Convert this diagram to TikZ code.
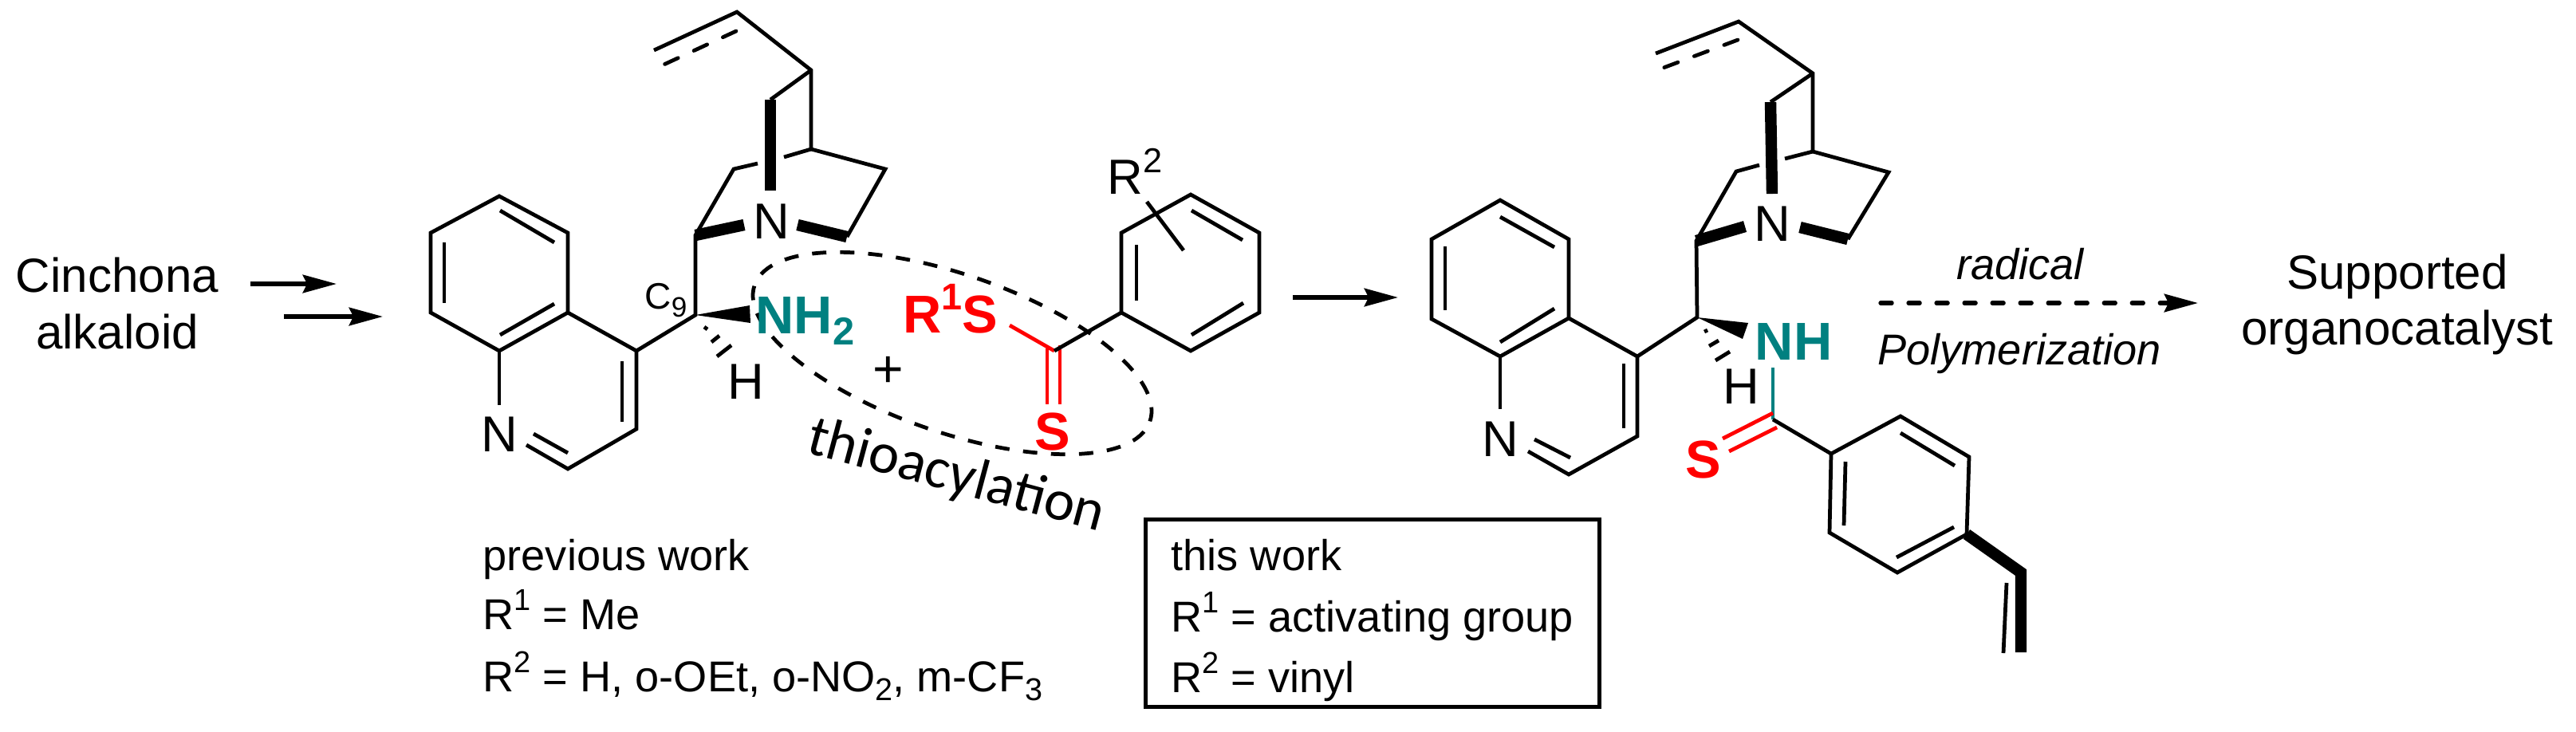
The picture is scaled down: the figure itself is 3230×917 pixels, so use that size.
\documentclass[tikz,border=0pt]{standalone}
\usepackage{fontspec}
\setmainfont{Liberation Sans}
\newfontfamily\calfont{Carlito}
\usetikzlibrary{arrows.meta}
\usetikzlibrary{shapes.geometric}
\definecolor{amine}{RGB}{0,128,128}
\definecolor{thio}{RGB}{255,0,0}
\newcommand{\supn}[1]{\raisebox{.43em}{\scalebox{.7}{#1}}}
\newcommand{\subn}[1]{\raisebox{-.21em}{\scalebox{.73}{#1}}}
\tikzset{
  bond/.style={line width=1.35pt},
  boldbond/.style={line width=4.1pt},
  dashbond/.style={line width=1.35pt,line cap=round,dash pattern=on 5.2pt off 6.2pt},
  wedge/.style={fill=black,draw=none},
  rxnarrow/.style={line width=1.5pt,-{Stealth[length=12pt,width=6.4pt,inset=1.5pt]}},
  dasharrow/.style={rxnarrow,line cap=round,dash pattern=on 4pt off 5.96pt},
  txt/.style={inner sep=0pt,font=\fontsize{15.4}{18}\selectfont},
  big/.style={inner sep=0pt,anchor=base,font=\fontsize{17.1}{20}\selectfont},
  cond/.style={inner sep=0pt,anchor=base,font=\fontsize{15.4}{18}\selectfont\itshape},
  atom/.style={inner sep=0pt,anchor=base,font=\fontsize{18}{20}\selectfont},
  group/.style={inner sep=0pt,font=\fontsize{19}{22}\selectfont\bfseries},
}
\begin{document}
\begin{tikzpicture}[x=0.01cm,y=-0.01cm]
  \useasboundingbox (0,0) rectangle (3230,917);

  \node[draw,ellipse,line width=1.35pt,dash pattern=on 5.1pt off 4.9pt,inner sep=0pt,
    minimum width=5.24cm,minimum height=1.98cm,rotate=-19] (pocket) at (1194,443) {};

  \node[big] (alka) at (147,366) {Cinchona};
  \node[big] (alkb) at (147,437) {alkaloid};
  \coordinate (ara) at (314,356);
  \coordinate (arb) at (422,356);
  \coordinate (arc) at (356,397);
  \coordinate (ard) at (480,397);
  \draw[rxnarrow] (ara) -- (arb);
  \draw[rxnarrow] (arc) -- (ard);

  \coordinate (q1) at (626,246);
  \coordinate (q2) at (540,292);
  \coordinate (q3) at (540,392);
  \coordinate (q4) at (626,440);
  \coordinate (q5) at (712,392);
  \coordinate (q6) at (712,292);
  \coordinate (q7) at (798,440);
  \coordinate (q8) at (798,538);
  \coordinate (q9) at (712,588);
  \coordinate (qa) at (626,508);
  \coordinate (qb) at (660,558);
  \node[atom] (qn) at (626,566) {N};
  \draw[bond] (q5) -- (q6) -- (q1) -- (q2) -- (q3) -- (q4) -- (q5) -- (q7) -- (q8) -- (q9) -- (qb);
  \draw[bond] (q4) -- (qa);
  \coordinate (qc) at (627,264);
  \coordinate (qd) at (695,304);
  \coordinate (qe) at (557,304);
  \coordinate (qf) at (557,380);
  \coordinate (qg) at (627,420);
  \coordinate (qh) at (695,381);
  \coordinate (qi) at (780,453);
  \coordinate (qj) at (780,529);
  \coordinate (qk) at (669,544);
  \coordinate (ql) at (712,568);
  \draw[bond] (qc) -- (qd);
  \draw[bond] (qe) -- (qf);
  \draw[bond] (qg) -- (qh);
  \draw[bond] (qi) -- (qj);
  \draw[bond] (qk) -- (ql);

  \coordinate (c9) at (872,395);
  \coordinate (c8) at (872,295);
  \coordinate (v1) at (820,63);
  \coordinate (v2) at (924,15);
  \coordinate (v3) at (923,39);
  \coordinate (v4) at (828,83);
  \coordinate (u1) at (1017,88);
  \coordinate (u2) at (1017,187);
  \coordinate (u3) at (1110,212);
  \coordinate (u4) at (1062,297);
  \coordinate (u5) at (1000,282);
  \coordinate (u6) at (983,197);
  \coordinate (u7) at (950,205);
  \coordinate (u8) at (920,212);
  \coordinate (u9) at (966,125);
  \coordinate (ua) at (966,239);
  \coordinate (ub) at (933,282);
  \node[atom] (un) at (967,299) {N};
  \draw[bond] (q7) -- (c9) -- (c8) -- (u8) -- (u7);
  \draw[bond] (v1) -- (v2) -- (u1) -- (u2) -- (u3) -- (u4);
  \draw[bond] (u2) -- (u6);
  \draw[bond] (u1) -- (u9);
  \draw[dashbond] (v3) -- (v4);
  \draw[boldbond] (u9) -- (ua);
  \draw[boldbond] (c8) -- (ub);
  \draw[boldbond] (u5) -- (u4);

  \coordinate (wa) at (940,383);
  \coordinate (wb) at (941,405);
  \fill[wedge] (c9) -- (wa) -- (wb) -- cycle;
  \coordinate (ha) at (883,410);
  \coordinate (hb) at (887,413);
  \coordinate (hc) at (892,429);
  \coordinate (hd) at (902,421);
  \coordinate (he) at (899,447);
  \coordinate (hf) at (917,433);
  \draw[bond] (ha) -- (hb);
  \draw[bond] (hc) -- (hd);
  \draw[bond] (he) -- (hf);
  \node[atom] (hl) at (935,500) {H};
  \node[inner sep=0pt,anchor=base west] (cn) at (808,387) {\fontsize{13.1}{15}\selectfont C\raisebox{-3.1pt}{\fontsize{10}{12}\selectfont 9}};
  \node[group,text=amine,anchor=base west] (nh2) at (947,418) {NH\subn{2}};

  \node[inner sep=0pt,anchor=base,font=\fontsize{18.8}{20}\selectfont] (plus) at (1114,485) {+};

  \node[group,text=thio,anchor=base west] (r1s) at (1132,417) {R\supn{1}S};
  \node[group,text=thio,anchor=base] (sa) at (1320,564) {S};
  \coordinate (t0) at (1322,440);
  \coordinate (t1) at (1266,408);
  \coordinate (t2) at (1313,437);
  \coordinate (t3) at (1313,507);
  \coordinate (t4) at (1329,433);
  \coordinate (t5) at (1329,507);
  \draw[bond,thio] (t1) -- (t0);
  \draw[bond,thio] (t2) -- (t3);
  \draw[bond,thio] (t4) -- (t5);

  \coordinate (p1) at (1406,392);
  \coordinate (p2) at (1406,292);
  \coordinate (p3) at (1493,244);
  \coordinate (p4) at (1579,292);
  \coordinate (p5) at (1579,392);
  \coordinate (p6) at (1493,440);
  \draw[bond] (t0) -- (p1) -- (p2) -- (p3) -- (p4) -- (p5) -- (p6) -- (p1);
  \coordinate (pa) at (1425,307);
  \coordinate (pb) at (1425,377);
  \coordinate (pc) at (1494,264);
  \coordinate (pd) at (1558,301);
  \coordinate (pe) at (1494,420);
  \coordinate (pf) at (1559,380);
  \draw[bond] (pa) -- (pb);
  \draw[bond] (pc) -- (pd);
  \draw[bond] (pe) -- (pf);
  \coordinate (pg) at (1438,253);
  \coordinate (ph) at (1484,314);
  \draw[bond] (pg) -- (ph);
  \node[inner sep=0pt,anchor=base west,font=\fontsize{17.6}{20}\selectfont] (r2) at (1388,243) {R\supn{2}};

  \coordinate (tka) at (1194,617);
  \node[inner sep=0pt,anchor=base,rotate=-15,font=\fontsize{20.6}{24}\selectfont\calfont] (thia) at (tka) {thioacylation};

  \node[txt,anchor=base west] (pra) at (605,715) {previous work};
  \node[txt,anchor=base west] (prb) at (605,789) {R\supn{1} = Me};
  \node[txt,anchor=base west] (prc) at (605,867) {R\supn{2} = H, o-OEt, o-NO\subn{2}, m-CF\subn{3}};

  \node[draw,line width=1.35pt,inner sep=0pt,minimum width=5.69cm,minimum height=2.35cm] (frame) at (1721,769) {};
  \node[txt,anchor=base west] (tha) at (1468,715) {this work};
  \node[txt,anchor=base west] (thb) at (1468,792) {R\supn{1} = activating group};
  \node[txt,anchor=base west] (thc) at (1468,868) {R\supn{2} = vinyl};

  \coordinate (are) at (1621,373);
  \coordinate (arf) at (1753,373);
  \draw[rxnarrow] (are) -- (arf);

  \coordinate (s1) at (1881,251);
  \coordinate (s2) at (1795,300);
  \coordinate (s3) at (1795,400);
  \coordinate (s4) at (1881,447);
  \coordinate (s5) at (1967,399);
  \coordinate (s6) at (1967,300);
  \coordinate (s7) at (2053,447);
  \coordinate (s8) at (2053,547);
  \coordinate (s9) at (1967,595);
  \coordinate (sa1) at (1881,513);
  \coordinate (sb) at (1916,566);
  \node[atom] (sn) at (1881,572) {N};
  \draw[bond] (s5) -- (s6) -- (s1) -- (s2) -- (s3) -- (s4) -- (s5) -- (s7) -- (s8) -- (s9) -- (sb);
  \draw[bond] (s4) -- (sa1);
  \coordinate (sc) at (1881,272);
  \coordinate (sd) at (1949,310);
  \coordinate (se) at (1812,309);
  \coordinate (sf) at (1812,389);
  \coordinate (sg) at (1881,429);
  \coordinate (sh) at (1949,387);
  \coordinate (si) at (2036,456);
  \coordinate (sj) at (2036,537);
  \coordinate (sk) at (1924,551);
  \coordinate (sl) at (1969,574);
  \draw[bond] (sc) -- (sd);
  \draw[bond] (se) -- (sf);
  \draw[bond] (sg) -- (sh);
  \draw[bond] (si) -- (sj);
  \draw[bond] (sk) -- (sl);

  \coordinate (d9) at (2128,398);
  \coordinate (d8) at (2127,302);
  \coordinate (x1) at (2076,67);
  \coordinate (x2) at (2180,27);
  \coordinate (x3) at (2179,50);
  \coordinate (x4) at (2083,86);
  \coordinate (y1) at (2273,92);
  \coordinate (y2) at (2273,190);
  \coordinate (y3) at (2368,216);
  \coordinate (y4) at (2317,300);
  \coordinate (y5) at (2257,285);
  \coordinate (y6) at (2238,199);
  \coordinate (y7) at (2206,207);
  \coordinate (y8) at (2177,215);
  \coordinate (y9) at (2220,128);
  \coordinate (ya) at (2222,243);
  \coordinate (yb) at (2188,284);
  \node[atom] (yn) at (2222,302) {N};
  \draw[bond] (s7) -- (d9) -- (d8) -- (y8) -- (y7);
  \draw[bond] (x1) -- (x2) -- (y1) -- (y2) -- (y3) -- (y4);
  \draw[bond] (y2) -- (y6);
  \draw[bond] (y1) -- (y9);
  \draw[dashbond] (x3) -- (x4);
  \draw[boldbond] (y9) -- (ya);
  \draw[boldbond] (d8) -- (yb);
  \draw[boldbond] (y5) -- (y4);

  \coordinate (za) at (2192,405);
  \coordinate (zb) at (2185,425);
  \fill[wedge] (d9) -- (za) -- (zb) -- cycle;
  \coordinate (ka) at (2137,416);
  \coordinate (kb) at (2141,414);
  \coordinate (kc) at (2143,434);
  \coordinate (kd) at (2155,427);
  \coordinate (ke) at (2151,452);
  \coordinate (kf) at (2169,441);
  \draw[bond] (ka) -- (kb);
  \draw[bond] (kc) -- (kd);
  \draw[bond] (ke) -- (kf);
  \node[atom] (kl) at (2183,506) {H};
  \node[group,text=amine,anchor=base] (nh) at (2249,451) {NH};

  \coordinate (b0) at (2223,526);
  \coordinate (b1) at (2223,461);
  \coordinate (b2) at (2160,550);
  \coordinate (b3) at (2223,518);
  \coordinate (b4) at (2168,566);
  \coordinate (b5) at (2228,536);
  \draw[bond,amine] (b1) -- (b0);
  \draw[bond,thio] (b2) -- (b3);
  \draw[bond,thio] (b4) -- (b5);
  \node[group,text=thio,anchor=base] (sb2) at (2136,599) {S};

  \coordinate (g1) at (2296,569);
  \coordinate (g2) at (2383,522);
  \coordinate (g3) at (2469,573);
  \coordinate (g4) at (2466,670);
  \coordinate (g5) at (2379,718);
  \coordinate (g6) at (2294,668);
  \draw[bond] (b0) -- (g1) -- (g2) -- (g3) -- (g4) -- (g5) -- (g6) -- (g1);
  \coordinate (ga) at (2314,579);
  \coordinate (gb) at (2312,659);
  \coordinate (gc) at (2383,543);
  \coordinate (gd) at (2451,584);
  \coordinate (ge) at (2378,699);
  \coordinate (gf) at (2450,661);
  \draw[bond] (ga) -- (gb);
  \draw[bond] (gc) -- (gd);
  \draw[bond] (ge) -- (gf);
  \coordinate (f1) at (2534,718);
  \coordinate (f2) at (2534,818);
  \coordinate (f3) at (2516,731);
  \coordinate (f4) at (2512,819);
  \draw[boldbond,line join=miter] (g4) -- (f1) -- (f2);
  \draw[bond] (f3) -- (f4);

  \node[cond] (rad) at (2533,350) {radical};
  \node[cond] (pol) at (2532,457) {Polymerization};
  \coordinate (arg) at (2358,380);
  \coordinate (arh) at (2756,380);
  \draw[dasharrow] (arg) -- (arh);

  \node[big] (supa) at (3006,362) {Supported};
  \node[big] (supb) at (3006,432) {organocatalyst};
\end{tikzpicture}
\end{document}
